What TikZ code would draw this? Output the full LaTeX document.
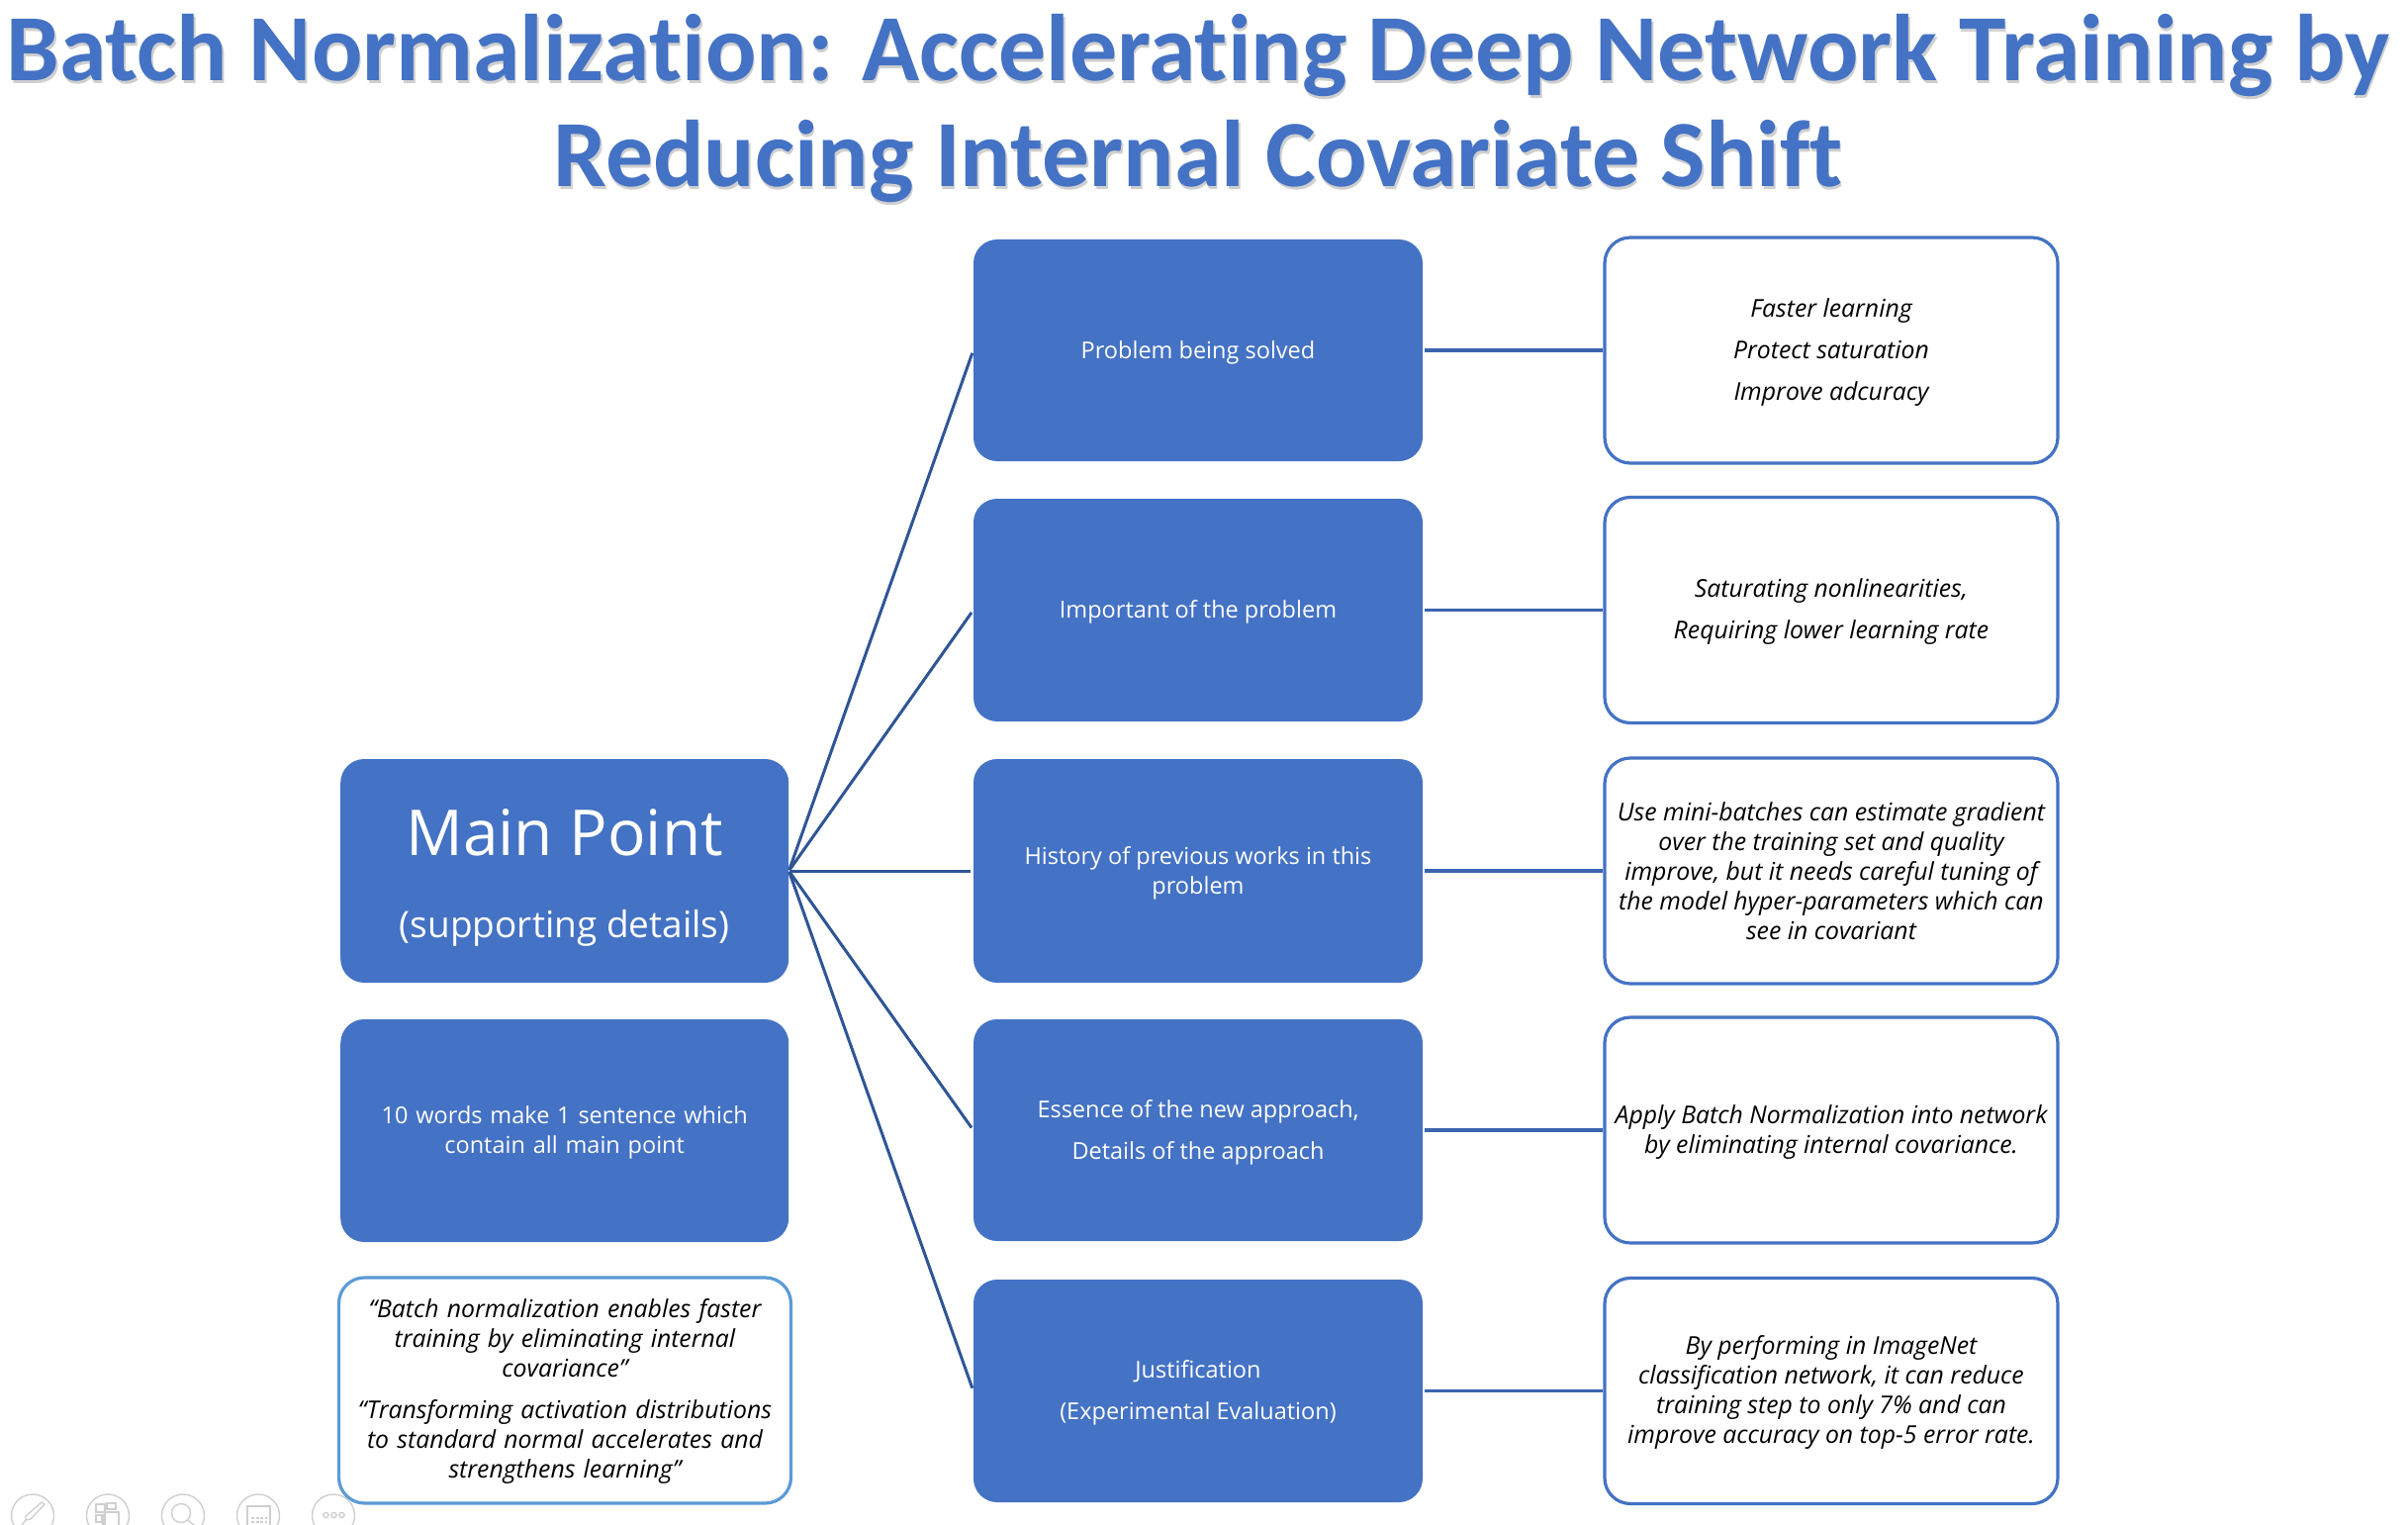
\documentclass[tikz,border=0pt]{standalone}
\usepackage{fontspec}
\setmainfont{Open Sans}
\newfontfamily\titlefont{Carlito}[BoldFont={* Bold},Ligatures=CommonOff]
\definecolor{boxblue}{HTML}{4472C4}
\definecolor{edgeblue}{HTML}{2F5597}
\definecolor{rightedge}{HTML}{3B64AE}
\definecolor{quoteblue}{HTML}{5B9BD5}
\definecolor{iconGray}{HTML}{CFCFCF}
\definecolor{titleshadow}{HTML}{CFCFCF}
\newcommand{\bodyf}{\fontsize{23.5}{30}\selectfont}
\newcommand{\bodyi}{\fontsize{24.8}{30}\selectfont\itshape}
\newcommand{\titlef}{\titlefont\bfseries\fontsize{95.8}{107}\selectfont}
\newcommand{\lift}{\rule{0pt}{22pt}}
\tikzset{
  solidbox/.style={draw=none,fill=boxblue,rounded corners=24pt,text=white,align=center,font=\bodyf},
  outlinebox/.style={draw=boxblue,line width=3.2pt,fill=white,rounded corners=26pt,text=black,align=center,font=\bodyi,inner sep=2pt},
  quotebox/.style={draw=quoteblue,line width=3.2pt,fill=white,rounded corners=26pt,text=black,align=center,font=\bodyi,inner sep=2pt},
  link/.style={draw=edgeblue,line width=3pt,shorten >=3pt,shorten <=1pt},
  sidelink/.style={draw=rightedge,line width=3.2pt,shorten <=2pt},
  icon/.style={draw=iconGray,line width=1.4pt},
  titletext/.style={font=\titlef,text=boxblue,align=center,inner sep=0pt}
}
\begin{document}
\begin{tikzpicture}[x=1pt,y=-1pt]
\useasboundingbox (0,0) rectangle (2434,1541);
\clip (0,0) rectangle (2434,1541);
% title
\node[titletext,text=titleshadow] at (1212.5,113) {Batch Normalization: Accelerating Deep Network Training by\\Reducing Internal Covariate Shift};
\node[titletext] (title) at (1211,110) {Batch Normalization: Accelerating Deep Network Training by\\Reducing Internal Covariate Shift};
% left column
\node[solidbox,minimum width=453pt,minimum height=226pt] (main) at (570.7,880) {\rule{0pt}{60pt}{\fontsize{64}{72}\selectfont Main Point}\\[53pt]{\fontsize{37}{44}\selectfont (supporting details)}};
\node[solidbox,minimum width=453pt,minimum height=225pt,text width=420pt] (sentence) at (570.7,1142.5) {\rule{0pt}{21pt}10 words make 1 sentence which\\contain all main point};
\node[quotebox,minimum width=457pt,minimum height=228pt,text width=440pt] (quote) at (571,1405) {\rule{0pt}{21pt}“Batch normalization enables faster\\training by eliminating internal\\covariance”\\[12pt]“Transforming activation distributions\\to standard normal accelerates and\\strengthens learning”};
% middle column
\node[solidbox,minimum width=454pt,minimum height=224pt] (p1) at (1211,354) {\lift Problem being solved};
\node[solidbox,minimum width=454pt,minimum height=225pt] (p2) at (1211,616.5) {\lift Important of the problem};
\node[solidbox,minimum width=454pt,minimum height=226pt] (p3) at (1211,880) {\lift History of previous works in this\\problem};
\node[solidbox,minimum width=454pt,minimum height=224pt] (p4) at (1211,1142) {\lift Essence of the new approach,\\[12pt]Details of the approach};
\node[solidbox,minimum width=454pt,minimum height=225pt] (p5) at (1211,1405.5) {\lift Justification\\[12pt](Experimental Evaluation)};
% right column
\node[outlinebox,minimum width=458pt,minimum height=228pt] (d1) at (1851,354) {\lift Faster learning\\[12pt]Protect saturation\\[12pt]Improve adcuracy};
\node[outlinebox,minimum width=458pt,minimum height=228pt] (d2) at (1851,616.5) {\lift Saturating nonlinearities,\\[12pt]Requiring lower learning rate};
\node[outlinebox,minimum width=458pt,minimum height=228pt] (d3) at (1851,880) {Use mini-batches can estimate gradient\\over the training set and quality\\improve, but it needs careful tuning of\\the model hyper-parameters which can\\see in covariant};
\node[outlinebox,minimum width=458pt,minimum height=228pt] (d4) at (1851,1142) {\lift Apply Batch Normalization into network\\by eliminating internal covariance.};
\node[outlinebox,minimum width=458pt,minimum height=228pt] (d5) at (1851,1405.5) {\lift By performing in ImageNet\\classification network, it can reduce\\training step to only 7\% and can\\improve accuracy on top-5 error rate.};
% connectors
\foreach \n in {p1,p2,p3,p4,p5}{\draw[link] (main.east) -- (\n.west);}
\foreach \a/\b in {p1/d1,p2/d2,p3/d3,p4/d4,p5/d5}{\draw[sidelink] (\a.east) -- (\b.west);}
% toolbar
\foreach \x in {33,109,185,261,337}{\draw[icon] (\x,1531.5) circle (21.5);}
\draw[icon,line join=round] (26,1532) -- (42,1518) -- (45,1520) -- (31,1535) -- (26,1536) -- (22,1541) (26,1536) -- (26,1532);
\draw[icon] (97,1520) rectangle (106,1528) (108,1519) rectangle (117,1525) (97,1531) rectangle (103,1538) (104,1530) -- (104,1541) (106,1528) rectangle (120,1543);
\draw[icon] (183,1529) circle (9.5) (190,1536) -- (197,1542);
\draw[icon] (250,1522) rectangle (273,1545);
\draw[icon,dash pattern=on 3pt off 1.5pt,line width=1.2pt] (254,1534) -- (270,1534) (254,1538) -- (270,1538);
\draw[icon] (329.5,1531) circle (2.6) (337.5,1531) circle (2.6) (345.5,1531) circle (2.6);
\end{tikzpicture}
\end{document}
